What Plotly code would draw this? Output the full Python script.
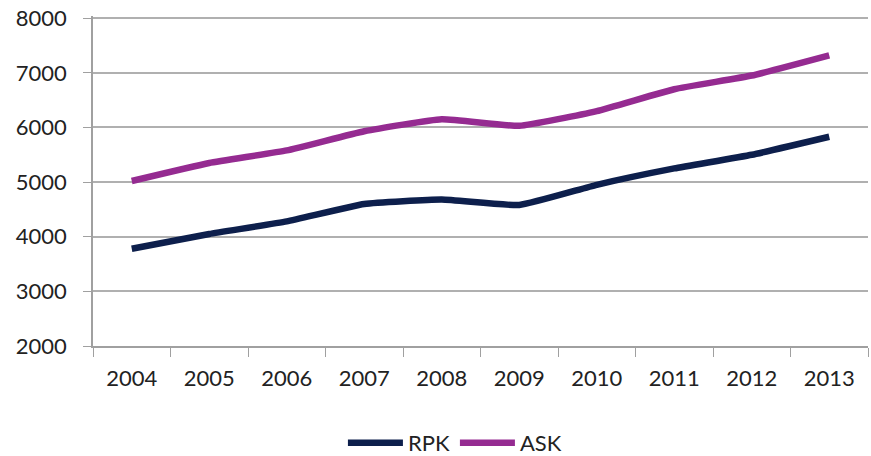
import plotly.graph_objects as go

years = ["2004", "2005", "2006", "2007", "2008", "2009", "2010", "2011", "2012", "2013"]
rpk = [3780, 4050, 4280, 4600, 4680, 4580, 4950, 5250, 5500, 5830]
ask = [5020, 5350, 5580, 5930, 6150, 6030, 6300, 6700, 6950, 7320]

FONT = "Lato"
fig = go.Figure()
fig.add_trace(go.Scatter(x=years, y=rpk, name="RPK", mode="lines",
                         line=dict(color="#0d1f4c", width=6.5, shape="spline", smoothing=0.4)))
fig.add_trace(go.Scatter(x=years, y=ask, name="ASK", mode="lines",
                         line=dict(color="#952b91", width=6.5, shape="spline", smoothing=0.4)))

fig.update_layout(
    width=871, height=456,
    margin=dict(l=93, r=3, t=16, b=110, autoexpand=False),
    paper_bgcolor="white", plot_bgcolor="white",
    font=dict(family=FONT, size=22, color="#222222"),
    showlegend=True,
    legend=dict(orientation="h", x=0.467, xanchor="center", y=-0.294, yanchor="middle",
                font=dict(size=22), itemwidth=55, tracegroupgap=0),
)
fig.update_xaxes(
    type="category", tickson="boundaries", ticks="outside", ticklen=9, tickcolor="#a0a0a0",
    showline=True, linecolor="#a0a0a0", linewidth=1.5, showgrid=False, automargin=False,
    ticklabelstandoff=12, range=[-0.5, 9.5],
)
fig.update_yaxes(
    range=[2000, 8040], tickvals=[2000, 3000, 4000, 5000, 6000, 7000, 8000],
    ticks="outside", ticklen=8, tickcolor="#a0a0a0",
    showline=True, linecolor="#a0a0a0", linewidth=1.5, automargin=False,
    showgrid=True, gridcolor="#b0b0b0", gridwidth=1.5, zeroline=False,
    ticklabelstandoff=12,
)
fig.write_html("out.html", config={"displayModeBar": False},
               post_script="document.body.style.margin='0';")
